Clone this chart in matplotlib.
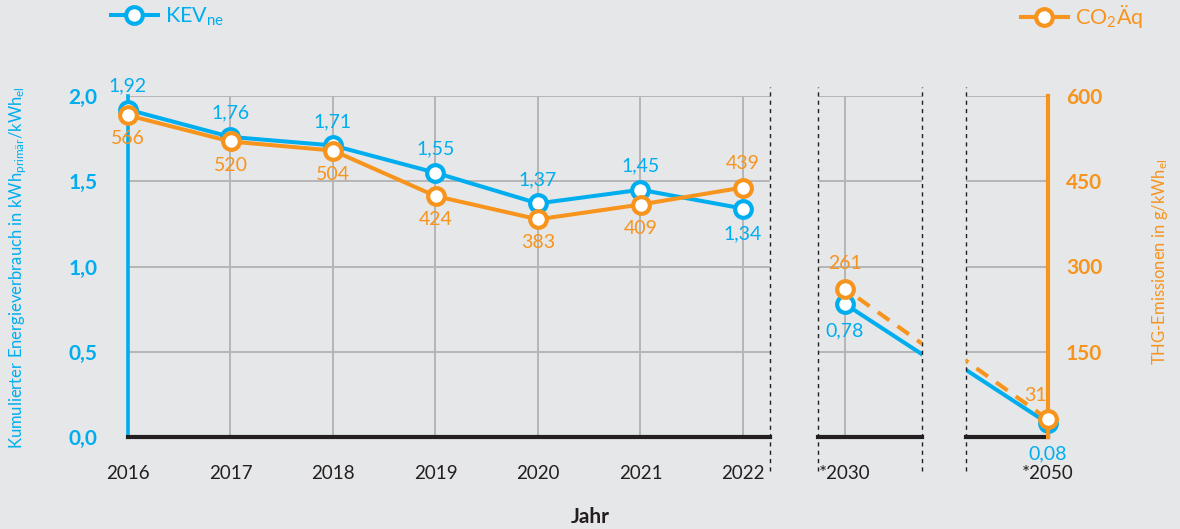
import matplotlib.pyplot as plt
from matplotlib.lines import Line2D

# Daten
years = [2016, 2017, 2018, 2019, 2020, 2021, 2022]
kev = [1.92, 1.76, 1.71, 1.55, 1.37, 1.45, 1.34]
co2 = [566, 520, 504, 424, 383, 409, 439]
proj_years = [2030, 2050]
kev_proj = [0.78, 0.08]
co2_proj = [261, 31]

left_ticks = [0.0, 0.5, 1.0, 1.5, 2.0]
left_ticklabels = ['0,0', '0,5', '1,0', '1,5', '2,0']
right_ticks = [150, 300, 450, 600]
right_ticklabels = ['150', '300', '450', '600']

BLUE = '#00aeef'
ORANGE = '#f7941d'
BG = '#e6e7e8'
GRID = '#b5b5b5'
DARK = '#231f20'

plt.rcParams['font.family'] = 'Lato'
plt.rcParams['mathtext.fontset'] = 'custom'
plt.rcParams['mathtext.rm'] = 'Lato'
plt.rcParams['mathtext.it'] = 'Lato'
plt.rcParams['mathtext.bf'] = 'Lato:bold'


def fmt(v):
    return ('%.2f' % v).replace('.', ',')


W, H = 1180, 529
fig = plt.figure(figsize=(W / 100, H / 100), dpi=100, facecolor=BG)


def box(x0, x1):
    return [x0 / W, (H - 437) / H, (x1 - x0) / W, (437 - 96) / H]


ax_main = fig.add_axes(box(128, 770))
ax_30 = fig.add_axes(box(818, 922))
ax_50 = fig.add_axes(box(966, 1048))

# gebrochene Achse: gleiche Steigung zwischen 2030 und 2050
ppy = 183 / 20
ax_main.set_xlim(2016, 2016 + 642 / 102.5)
ax_30.set_xlim(2030 - 27 / ppy, 2030 + 77 / ppy)
ax_50.set_xlim(2050 - 82 / ppy, 2050)

twins = []
for ax in (ax_main, ax_30, ax_50):
    ax.set_facecolor(BG)
    ax.set_ylim(0, 2.0)
    ax.set_yticks(left_ticks)
    ax.grid(True, color=GRID, linewidth=1.4)
    ax.set_axisbelow(True)
    for s in ('top', 'right', 'left'):
        ax.spines[s].set_visible(False)
    ax.spines['bottom'].set_color(DARK)
    ax.spines['bottom'].set_linewidth(3)
    ax.tick_params(length=0, labelsize=13.5, pad=20, colors=DARK)
    tw = ax.twinx()
    tw.set_ylim(0, 600)
    for s in tw.spines.values():
        s.set_visible(False)
    tw.set_yticks([])
    twins.append(tw)

tw_main, tw_30, tw_50 = twins

# Achsen links
ax_main.spines['left'].set_visible(True)
ax_main.spines['left'].set_color(BLUE)
ax_main.spines['left'].set_linewidth(2.6)
ax_main.set_yticklabels(left_ticklabels, color=BLUE, fontsize=15,
                        fontweight='bold')
ax_main.tick_params(axis='y', pad=22, colors=BLUE)
ax_main.set_xticks(years)
ax_main.set_xticklabels([str(y) for y in years])
for ax in (ax_30, ax_50):
    ax.set_yticklabels([])
ax_30.set_xticks([2030])
ax_30.set_xticklabels(['*2030'])
ax_50.set_xticks([2050])
ax_50.set_xticklabels(['*2050'])
ax_50.grid(False, axis='x')

# Achse rechts
tw_50.spines['right'].set_visible(True)
tw_50.spines['right'].set_color(ORANGE)
tw_50.spines['right'].set_linewidth(3)
tw_50.set_yticks(right_ticks)
tw_50.set_yticklabels(right_ticklabels, color=ORANGE, fontsize=15,
                      fontweight='bold')
tw_50.tick_params(axis='y', length=0, pad=13)

# gestrichelte Trennlinien
for ax, xs in ((ax_main, [1]), (ax_30, [0, 1]), (ax_50, [0])):
    for x in xs:
        ax.plot([x, x], [-0.1, 1.025], transform=ax.transAxes, color=DARK,
                linewidth=1, linestyle=(0, (3, 3)), clip_on=False, zorder=5)

mk = dict(marker='o', markersize=12, markerfacecolor='white',
          markeredgewidth=3)
LW = 2.9

# KEV
ax_main.plot(years, kev, color=BLUE, linewidth=LW, clip_on=False,
             markeredgecolor=BLUE, zorder=3, **mk)
for ax in (ax_30, ax_50):
    ax.plot(proj_years, kev_proj, color=BLUE, linewidth=LW, zorder=3)
ax_30.plot(proj_years[0], kev_proj[0], color=BLUE, markeredgecolor=BLUE,
           zorder=4, **mk)
ax_50.plot(proj_years[1], kev_proj[1], color=BLUE, markeredgecolor=BLUE,
           clip_on=False, zorder=4, **mk)

# CO2
tw_main.plot(years, co2, color=ORANGE, linewidth=LW, clip_on=False,
             markeredgecolor=ORANGE, zorder=3, **mk)
for tw in (tw_30, tw_50):
    tw.plot(proj_years, co2_proj, color=ORANGE, linewidth=LW,
            linestyle=(2, (3.5, 2.5)), zorder=3)
tw_30.plot(proj_years[0], co2_proj[0], color=ORANGE, markeredgecolor=ORANGE,
           zorder=4, **mk)
tw_50.plot(proj_years[1], co2_proj[1], color=ORANGE, markeredgecolor=ORANGE,
           clip_on=False, zorder=4, **mk)

# Beschriftungen
lab = dict(textcoords='offset points', ha='center', va='center',
           fontsize=14, annotation_clip=False)
for i, (x, v) in enumerate(zip(years, kev)):
    dy = -18 if i == len(years) - 1 else 17
    ax_main.annotate(fmt(v), (x, v), xytext=(0, dy), color=BLUE, **lab)
for i, (x, v) in enumerate(zip(years, co2)):
    dy = 17 if i == len(years) - 1 else -17
    tw_main.annotate(str(v), (x, v), xytext=(0, dy), color=ORANGE, **lab)
ax_30.annotate(fmt(kev_proj[0]), (proj_years[0], kev_proj[0]),
               xytext=(0, -19), color=BLUE, **lab)
tw_30.annotate(str(co2_proj[0]), (proj_years[0], co2_proj[0]),
               xytext=(0, 18), color=ORANGE, **lab)
ax_50.annotate(fmt(kev_proj[1]), (proj_years[1], kev_proj[1]),
               xytext=(0, -22), color=BLUE, **lab)
tw_50.annotate(str(co2_proj[1]), (proj_years[1], co2_proj[1]),
               xytext=(-9, 17), color=ORANGE, **lab)

# Achsentitel
fig.text(18 / W, 1 - 268 / H,
         'Kumulierter Energieverbrauch in kWh$_{\\mathregular{primär}}$'
         '/kWh$_{\\mathregular{el}}$',
         rotation=90, ha='center', va='center', color=BLUE, fontsize=12)
fig.text(1160 / W, 1 - 262 / H, 'THG-Emissionen in g/kWh$_{\\mathregular{el}}$',
         rotation=90, ha='center', va='center', color=ORANGE, fontsize=12)
fig.text(590 / W, 1 - 517 / H, 'Jahr', ha='center', va='center',
         color=DARK, fontsize=15, fontweight='bold')

# Legenden
h_kev = Line2D([], [], color=BLUE, linewidth=LW, markeredgecolor=BLUE, **mk)
h_co2 = Line2D([], [], color=ORANGE, linewidth=LW, markeredgecolor=ORANGE,
               **mk)
fig.legend([h_kev], ['KEV$_{\\mathregular{ne}}$'], loc='center left',
           bbox_to_anchor=(100 / W, 1 - 17 / H), frameon=False,
           handlelength=2.2, handletextpad=0.3, fontsize=15.5,
           borderpad=0, labelcolor=BLUE)
fig.legend([h_co2], ['CO$_{\\mathregular{2}}$Äq'], loc='center left',
           bbox_to_anchor=(1010 / W, 1 - 17 / H), frameon=False,
           handlelength=2.2, handletextpad=0.3, fontsize=15.5,
           borderpad=0, labelcolor=ORANGE)

fig.savefig('out.png', dpi=100, facecolor=BG)
